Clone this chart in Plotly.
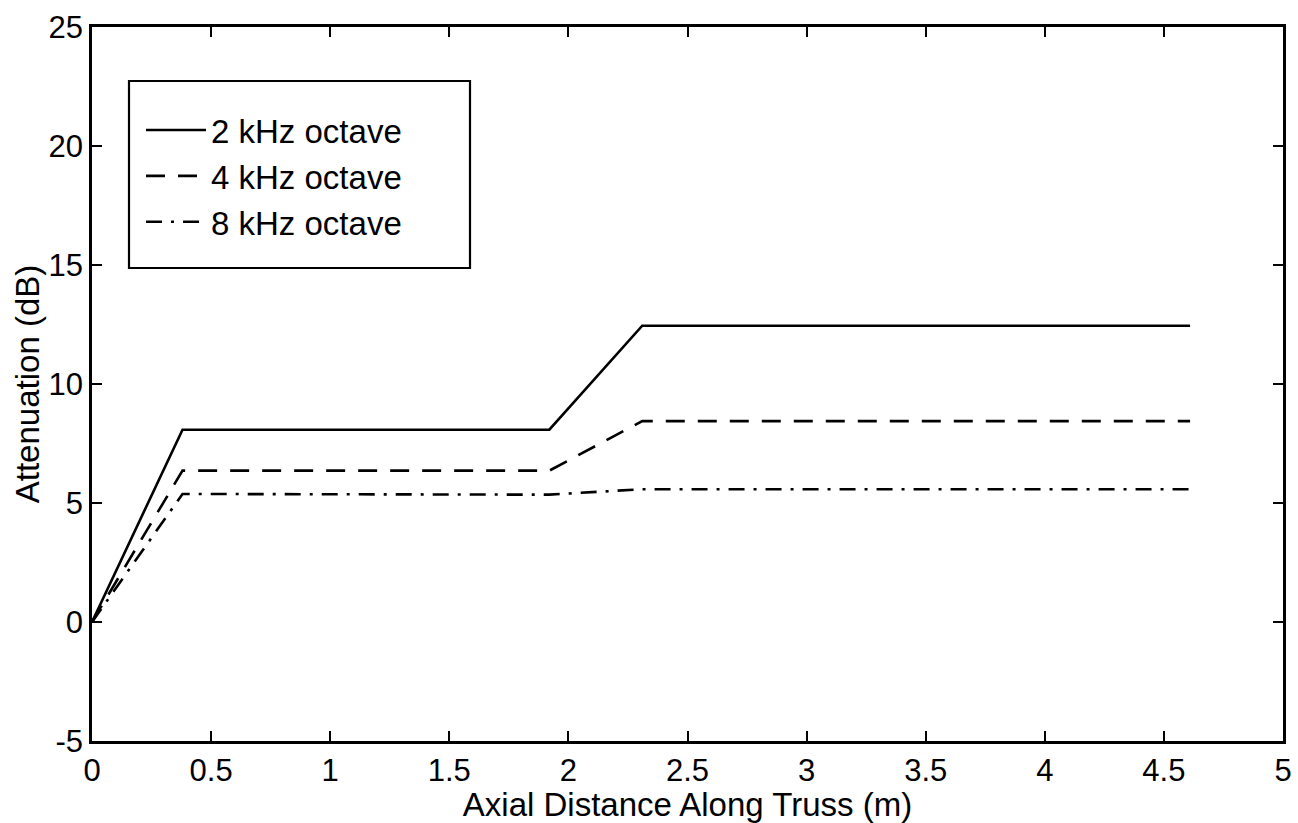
import plotly.graph_objects as go

# Data
distance_m = [0.0, 0.38, 1.92, 2.31, 4.61]
atten_2k = [0.0, 8.08, 8.08, 12.45, 12.45]
atten_4k = [0.0, 6.36, 6.36, 8.44, 8.44]
atten_8k = [0.0, 5.38, 5.35, 5.58, 5.58]

series_names = ["2 kHz octave", "4 kHz octave", "8 kHz octave"]
x_ticks = [0, 0.5, 1, 1.5, 2, 2.5, 3, 3.5, 4, 4.5, 5]
x_tick_text = ["0", "0.5", "1", "1.5", "2", "2.5", "3", "3.5", "4", "4.5", "5"]
y_ticks = [-5, 0, 5, 10, 15, 20, 25]
y_tick_text = ["-5", "0", "5", "10", "15", "20", "25"]

FONT = "Liberation Sans, Arial, Helvetica, sans-serif"
W, H = 1298, 823
L, R, T, B = 92, 15, 27, 82

fig = go.Figure()
styles = [
    dict(color="black", width=2.6, dash="solid"),
    dict(color="black", width=2.6, dash="19px,13px"),
    dict(color="black", width=2.6, dash="16px,9px,3px,9px"),
]
for name, ys, st in zip(series_names, [atten_2k, atten_4k, atten_8k], styles):
    fig.add_trace(go.Scatter(x=distance_m, y=ys, mode="lines", name=name,
                             legendgroup=name, line=st))

pw = W - L - R
ph = H - T - B

def px_to_paper_x(px):
    return (px - L) / pw

def px_to_paper_y(py):
    return (H - B - py) / ph

# legend frame
fig.add_shape(type="rect", xref="paper", yref="paper",
              x0=px_to_paper_x(129), x1=px_to_paper_x(470),
              y0=px_to_paper_y(268), y1=px_to_paper_y(81),
              line=dict(color="black", width=2.2), fillcolor="white", layer="below")

axis_common = dict(
    showline=True, linecolor="black", linewidth=2.5, mirror="ticks",
    ticks="inside", ticklen=10, tickwidth=2, tickcolor="black",
    showgrid=False, zeroline=False,
    tickfont=dict(family=FONT, size=31, color="black"),
)

fig.update_layout(
    width=W, height=H,
    margin=dict(l=L, r=R, t=T, b=B, autoexpand=False),
    paper_bgcolor="white", plot_bgcolor="white",
    font=dict(family=FONT, size=31, color="black"),
    xaxis=dict(range=[0, 5], tickvals=x_ticks, ticktext=x_tick_text,
               title=dict(text="Axial Distance Along Truss (m)", standoff=0,
                          font=dict(family=FONT, size=33, color="black")),
               **axis_common),
    yaxis=dict(range=[-5, 25], tickvals=y_ticks, ticktext=y_tick_text,
               title=dict(text="Attenuation (dB)", standoff=0,
                          font=dict(family=FONT, size=33, color="black")),
               **axis_common),
    legend=dict(x=px_to_paper_x(141), y=px_to_paper_y(102), xanchor="left", yanchor="top",
                bgcolor="rgba(0,0,0,0)", borderwidth=0,
                font=dict(family=FONT, size=33, color="black"),
                itemwidth=60, tracegroupgap=0),
    showlegend=True,
)

fig.write_html("out.html")
